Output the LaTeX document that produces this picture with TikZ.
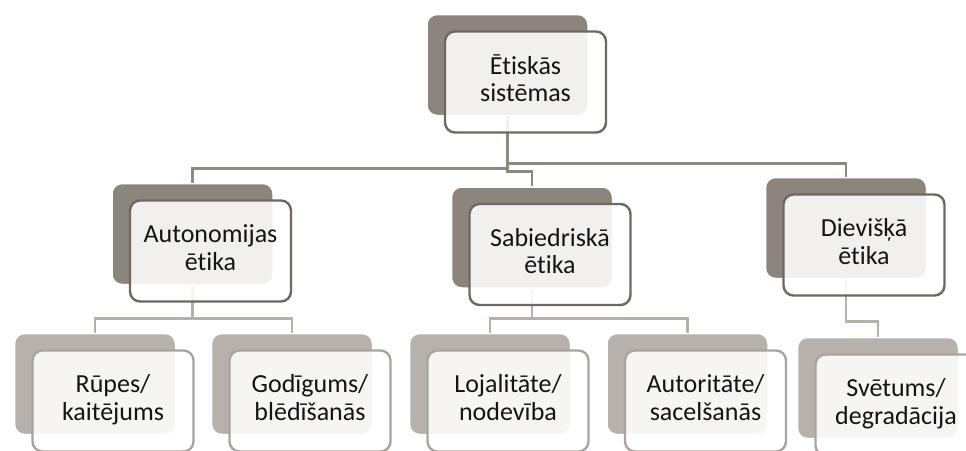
\documentclass[tikz,border=0pt]{standalone}
\usepackage{fontspec}
\setmainfont[Ligatures=NoCommon]{Carlito}
\usetikzlibrary{backgrounds}

\definecolor{backdark}{HTML}{8C857E}
\definecolor{backlight}{HTML}{B6B1AB}
\definecolor{rimdark}{HTML}{6F6862}
\definecolor{rimlight}{HTML}{A9A49F}
\definecolor{linkdark}{HTML}{8F8881}
\definecolor{linklight}{HTML}{B5B0AA}

\tikzset{
 card/.style={rounded corners=10pt, minimum width=161pt, minimum height=101pt, inner sep=0pt},
 backa/.style={card, fill=backdark, draw=white, line width=1.5pt},
 backb/.style={card, fill=backlight, draw=white, line width=1.5pt},
 fronta/.style={card, fill=white, fill opacity=0.88, draw=rimdark, line width=2.4pt},
 frontb/.style={fronta, draw=rimlight},
 cardtext/.style={inner sep=0pt, text=black!92, font=\fontsize{26}{27.5}\selectfont},
 linka/.style={draw=linkdark, line width=2.8pt},
 linkb/.style={draw=linklight, line width=2.8pt}
}

\begin{document}
\begin{tikzpicture}[x=1pt,y=-1pt]

\newcommand{\card}[5][a] % [level][name][x][y][text]
{
 \node[back#1] (#2-b) at (#3,#4) {};
 \node[front#1] (#2) at (#3+18,#4+17) {};
 \node[cardtext] (#2-t) at (#2) {\begin{tabular}{@{}c@{}}#5\end{tabular}};
}

\useasboundingbox (0,0) rectangle (966,450);

% top
\card{top}{507.5}{65}{Ētiskās\\sistēmas}

% second row
\card{auto}{192.5}{234}{Autonomijas\\ētika}
\card{sab}{532}{237.5}{Sabiedriskā\\ētika}
\card{div}{846}{228}{Dievišķā\\ētika}

% third row
\card[b]{rup}{95}{384}{Rūpes/\\kaitējums}
\card[b]{god}{292}{384}{Godīgums/\\blēdīšanās}
\card[b]{loj}{490}{384}{Lojalitāte/\\nodevība}
\card[b]{aut}{687.5}{384}{Autoritāte/\\sacelšanās}
\card[b]{sve}{878}{388}{Svētums/\\degradācija}

\begin{pgfonlayer}{background}
 \draw[linka] (top-b.south) -- ++(0,52) -| (auto-b.north);
 \draw[linka] (top-b.south) -- ++(0,55) -| (sab-b.north);
 \draw[linka] (top-b.south) -- ++(0,47) -| (div-b.north);

 \draw[linkb] (auto-b.south) -- ++(0,33) -| (rup-b.north);
 \draw[linkb] (auto-b.south) -- ++(0,33) -| (god-b.north);
 \draw[linkb] (sab-b.south) -- ++(0,30) -| (loj-b.north);
 \draw[linkb] (sab-b.south) -- ++(0,30) -| (aut-b.north);
 \draw[linkb] (div-b.south) -- ++(0,42) -| (sve-b.north);
\end{pgfonlayer}

\end{tikzpicture}
\end{document}
